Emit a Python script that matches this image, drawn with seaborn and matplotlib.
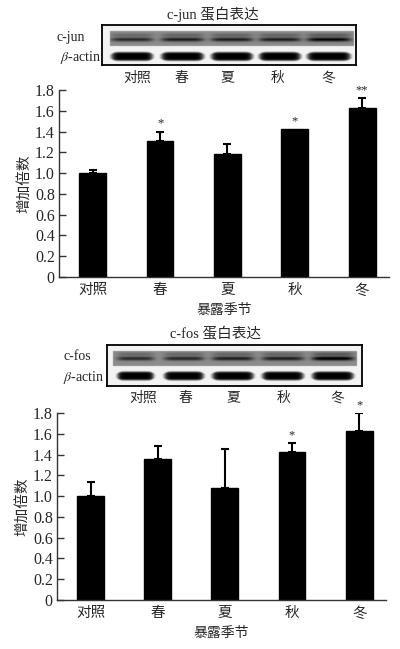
import numpy as np
import matplotlib
matplotlib.use('Agg')
import matplotlib.pyplot as plt
import seaborn as sns
import pandas as pd

# ---------------- data ----------------
categories = ['对照', '春', '夏', '秋', '冬']
cjun_mean = [1.00, 1.31, 1.18, 1.42, 1.63]
cjun_err = [0.03, 0.09, 0.10, 0.00, 0.09]
cjun_sig = ['', '*', '', '*', '**']
cfos_mean = [1.00, 1.355, 1.08, 1.425, 1.625]
cfos_err = [0.135, 0.125, 0.375, 0.085, 0.175]
cfos_sig = ['', '', '', '*', '*']
yticks = [0, 0.2, 0.4, 0.6, 0.8, 1.0, 1.2, 1.4, 1.6, 1.8]
ytick_labels = ['0', '0.2', '0.4', '0.6', '0.8', '1.0', '1.2', '1.4', '1.6', '1.8']
# relative blot band darkness per lane
cjun_band = [0.40, 0.45, 0.45, 0.45, 0.55]
cfos_band = [0.40, 0.42, 0.45, 0.45, 0.60]
actin_band = [1.0, 1.0, 1.0, 1.0, 1.0]

sns.set_theme(style='white')
plt.rcParams['font.family'] = ['Liberation Serif', 'Noto Sans CJK SC']
plt.rcParams['mathtext.fontset'] = 'stix'

W, H = 400, 649
fig = plt.figure(figsize=(W / 100, H / 100), dpi=100)
fig.patch.set_facecolor('white')


def px_axes(x0, y0, x1, y1):
    return fig.add_axes([x0 / W, 1 - y1 / H, (x1 - x0) / W, (y1 - y0) / H])


def draw_blot(box, strip, band_y, actin_y, lanes, band, actin, label, title,
              title_y, lab_y, lane_label_y, lane_label_x):
    x0, y0, x1, y1 = box
    ax = px_axes(x0, y0, x1, y1)
    res = 4
    xs = np.linspace(x0, x1, int((x1 - x0) * res))
    ys = np.linspace(y0, y1, int((y1 - y0) * res))
    X, Y = np.meshgrid(xs, ys)
    dark = np.full(X.shape, 0.05)
    sx0, sy0, sx1, sy1 = strip
    inside = (X >= sx0) & (X <= sx1) & (Y >= sy0) & (Y <= sy1)
    dark[inside] = 0.45
    for (lx0, lx1), b, a in zip(lanes, band, actin):
        cx = (lx0 + lx1) / 2
        hw = (lx1 - lx0) / 2
        prof = np.exp(-np.abs((X - cx) / hw) ** 6)
        d1 = b * prof * (np.exp(-((Y - band_y) / 2.0) ** 2)
                         + 0.35 * np.exp(-((Y - band_y + 4.5) / 1.8) ** 2))
        dark = np.where(inside, np.clip(dark + d1, 0, 1), dark)
        prof2 = np.exp(-np.abs((X - cx) / hw) ** 10)
        thick = 4.5 * (0.5 + 0.5 * np.exp(-np.abs((X - cx) / (hw * 0.97)) ** 10))
        d2 = a * prof2 * np.exp(-np.abs((Y - actin_y) / thick) ** 6)
        dark = np.maximum(dark, d2)
    ax.imshow(1 - dark, cmap='gray', vmin=0, vmax=1, extent=(x0, x1, y1, y0),
              aspect='auto', interpolation='bilinear')
    ax.set_xlim(x0, x1)
    ax.set_ylim(y1, y0)
    ax.set_xticks([])
    ax.set_yticks([])
    for s in ax.spines.values():
        s.set_visible(True)
        s.set_color('black')
        s.set_linewidth(1.3)
    fig.text(lab_y[0][0] / W, 1 - lab_y[0][1] / H, label, fontsize=10,
             ha='left', va='center')
    fig.text(lab_y[1][0] / W, 1 - lab_y[1][1] / H, r'$\beta$-actin', fontsize=10,
             ha='left', va='center')
    fig.text(title_y[0] / W, 1 - title_y[1] / H, title, fontsize=10.5,
             ha='center', va='center')
    for cx, c in zip(lane_label_x, categories):
        fig.text(cx / W, 1 - lane_label_y / H, c, fontsize=10, ha='center', va='center')


def draw_bars(rect, mean, err, sig):
    ax = px_axes(*rect)
    df = pd.DataFrame({'cat': categories, 'val': mean})
    sns.barplot(data=df, x='cat', y='val', color='black', width=0.4,
                saturation=1, ax=ax, edgecolor='black')
    xs = np.arange(len(categories))
    m_arr = np.array(mean)
    e_arr = np.array(err)
    keep = e_arr > 0
    ax.errorbar(xs[keep], m_arr[keep], yerr=[np.zeros(keep.sum()), e_arr[keep]],
                fmt='none', ecolor='black', elinewidth=1.5, capsize=3, capthick=1.5)
    for x, m, e, s in zip(xs, mean, err, sig):
        if s:
            ax.text(x, m + e + 0.02, s, ha='center', va='bottom', fontsize=9)
    ax.set_xlim(-0.5, 4.4)
    ax.set_ylim(0, 1.8)
    ax.set_yticks(yticks)
    ax.set_yticklabels(ytick_labels)
    ax.tick_params(axis='y', direction='in', length=5, width=1, labelsize=11.5,
                   pad=3, left=True, color='#333333')
    ax.tick_params(axis='x', length=0, labelsize=10.5, pad=5)
    ax.set_xlabel('暴露季节', fontsize=10, labelpad=5)
    ax.set_ylabel('增加倍数', fontsize=10.5, labelpad=3)
    for k in ['top', 'right']:
        ax.spines[k].set_visible(False)
    for k in ['left', 'bottom']:
        ax.spines[k].set_color('#333333')
        ax.spines[k].set_linewidth(1.0)
    ax.set_facecolor('white')
    return ax


# top panel
draw_blot(box=(102, 25, 356, 65), strip=(110, 31, 354, 46), band_y=39.5, actin_y=56.5,
          lanes=[(111, 153), (161, 204), (211, 253), (259, 301), (307, 351)],
          band=cjun_band, actin=actin_band, label='c-jun', title='c-jun 蛋白表达',
          title_y=(213, 14), lab_y=[(56, 38), (60, 58)], lane_label_y=78,
          lane_label_x=[137, 181, 227, 278, 328])
draw_bars((59, 90, 389, 277), cjun_mean, cjun_err, cjun_sig)

# bottom panel
draw_blot(box=(107, 345, 362, 386), strip=(113, 351, 357, 366), band_y=358.5, actin_y=376,
          lanes=[(117, 154), (164, 204), (212, 254), (262, 304), (312, 354)],
          band=cfos_band, actin=actin_band, label='c-fos', title='c-fos 蛋白表达',
          title_y=(216, 334), lab_y=[(63, 357), (63, 377)], lane_label_y=398,
          lane_label_x=[143, 185, 233, 284, 337])
draw_bars((57, 413, 386, 600), cfos_mean, cfos_err, cfos_sig)

fig.savefig('out.png', dpi=100, facecolor='white')
